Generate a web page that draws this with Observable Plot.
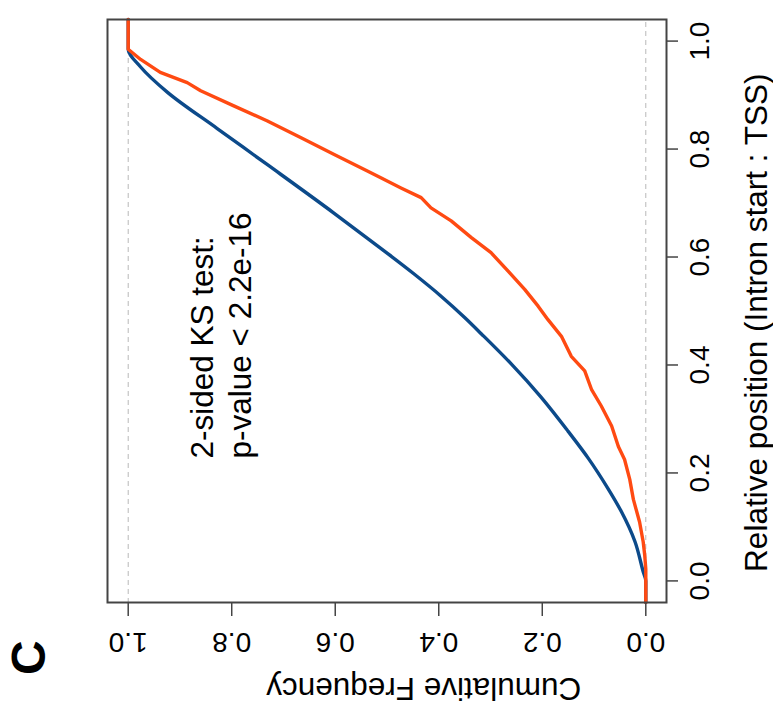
<!DOCTYPE html>
<html><head><meta charset="utf-8">
<script src="https://cdn.jsdelivr.net/npm/d3@7"></script>
<script src="https://cdn.jsdelivr.net/npm/@observablehq/plot@0.6"></script>
<style>
html,body{margin:0;padding:0;background:#fff;overflow:hidden;width:773px;height:716px}
#rot{position:absolute;left:0;top:0;width:716px;height:773px;transform-origin:0 0;transform:translate(0,716px) rotate(-90deg)}
</style></head><body><div id="rot"></div>
<script>
// Tick values / labels (both axes)
const tickValues = [0, 0.2, 0.4, 0.6, 0.8, 1.0];
const tickLabels = ["0.0", "0.2", "0.4", "0.6", "0.8", "1.0"];
const xTitle = "Relative position (Intron start : TSS)";
const yTitle = "Cumulative Frequency";
const panelLabel = "C";
const annotation = ["2-sided KS test:", "p-value < 2.2e-16"];

// Blue ECDF (relative position -> cumulative frequency)
const bluePos  = [-0.04, 0.0, 0.017, 0.073, 0.128, 0.171, 0.227, 0.277, 0.340, 0.402, 0.458, 0.488, 0.527, 0.568, 0.616, 0.681, 0.771, 0.838, 0.905, 0.952, 0.985, 1.04];
const blueFreq = [0, 0, 0.005, 0.021, 0.047, 0.073, 0.111, 0.150, 0.202, 0.260, 0.318, 0.350, 0.395, 0.447, 0.512, 0.602, 0.731, 0.828, 0.924, 0.976, 1.0, 1.0];

// Orange ECDF
const orangePos  = [-0.04, 0.022, 0.047, 0.072, 0.109, 0.151, 0.188, 0.225, 0.249, 0.287, 0.324, 0.355, 0.389, 0.416, 0.453, 0.484, 0.509, 0.540, 0.574, 0.608, 0.636, 0.667, 0.691, 0.710, 0.728, 0.747, 0.759, 0.790, 0.821, 0.852, 0.880, 0.908, 0.923, 0.942, 0.966, 0.985, 1.04];
const orangeFreq = [0, 0, 0.002, 0.005, 0.012, 0.024, 0.031, 0.041, 0.053, 0.066, 0.086, 0.105, 0.118, 0.144, 0.163, 0.189, 0.208, 0.234, 0.266, 0.299, 0.337, 0.376, 0.415, 0.434, 0.473, 0.512, 0.537, 0.602, 0.666, 0.731, 0.796, 0.860, 0.886, 0.938, 0.976, 1.0, 1.0];

const blue = bluePos.map((p, i) => ({p, f: blueFreq[i]}));
const orange = orangePos.map((p, i) => ({p, f: orangeFreq[i]}));
const fmt = (d) => tickLabels[tickValues.indexOf(d)];

const FONT = "'Liberation Sans', Arial, Helvetica, sans-serif";

const chart = Plot.plot({
  width: 716,
  height: 773,
  marginLeft: 113,
  marginRight: 20,
  marginTop: 107,
  marginBottom: 107,
  style: {fontFamily: FONT, background: "white", color: "black", overflow: "visible"},
  x: {domain: [-0.04, 1.04]},
  y: {domain: [-0.04, 1.04]},
  marks: [
    Plot.ruleY([0, 1], {stroke: "#b8b8b8", strokeWidth: 1, strokeDasharray: "5,4"}),
    Plot.line(blue, {x: "p", y: "f", stroke: "#0c4a8a", strokeWidth: 3.4, curve: "monotone-x"}),
    Plot.line(orange, {x: "p", y: "f", stroke: "#ff4a12", strokeWidth: 3.4}),
    Plot.frame({stroke: "#444", strokeWidth: 2}),
    Plot.axisX({ticks: tickValues, tickFormat: fmt, tickSize: 12, tickPadding: 11, fontSize: 28, label: null, stroke: "#444", strokeWidth: 1.5}),
    Plot.axisY({ticks: tickValues, tickFormat: fmt, tickSize: 13, tickPadding: 17, tickRotate: -90, textAnchor: "middle", lineAnchor: "bottom", fontSize: 28, label: null, stroke: "#444", strokeWidth: 1.5}),
    Plot.text([xTitle], {text: (d) => d, frameAnchor: "bottom", dx: -11.7, dy: 100.7, lineAnchor: "bottom", textAnchor: "middle", fontSize: 31.5, fill: "black"}),
    Plot.text([yTitle], {text: (d) => d, frameAnchor: "left", rotate: -90, dx: -75.3, dy: 36.8, lineAnchor: "bottom", textAnchor: "middle", fontSize: 31.5, fill: "black"}),
    Plot.text([panelLabel], {text: (d) => d, frameAnchor: "top-left", dx: -72.5, dy: -97, lineAnchor: "top", textAnchor: "start", fontSize: 48, fontWeight: "bold", fill: "black"}),
    Plot.text([annotation.join("\n")], {text: (d) => d, frameAnchor: "top-left", dx: 144, dy: 78, lineAnchor: "top", textAnchor: "start", fontSize: 31.5, lineHeight: 1.22, fill: "black"})
  ]
});
document.getElementById("rot").appendChild(chart);
</script>
</body></html>
